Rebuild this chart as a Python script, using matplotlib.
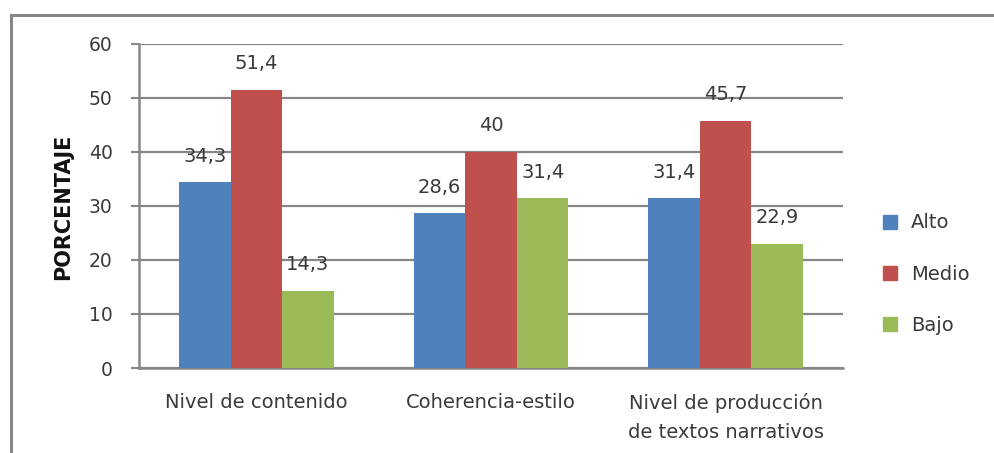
import numpy as np
import matplotlib.pyplot as plt
from matplotlib.lines import Line2D

categorias = ["Nivel de contenido", "Coherencia-estilo", "Nivel de producción\nde textos narrativos"]
alto = [34.3, 28.6, 31.4]
medio = [51.4, 40, 45.7]
bajo = [14.3, 31.4, 22.9]
series = ["Alto", "Medio", "Bajo"]
colores = ["#4F81BD", "#C0504D", "#9BBB59"]

plt.rcParams['font.family'] = ['DejaVu Sans']
gris = "#868686"
texto = "#3a3a3a"

fig = plt.figure(figsize=(9.95, 4.53), dpi=100)
ax = fig.add_axes([139/995, 1-368/453, 704/995, (368-43.5)/453])

x = np.arange(len(categorias))
w = 0.22
for i, (vals, nombre, col) in enumerate(zip([alto, medio, bajo], series, colores)):
    pos = x + (i-1)*w
    ax.bar(pos, vals, width=w, color=col, label=nombre, zorder=3)
    for p, v in zip(pos, vals):
        etiqueta = f"{v:g}".replace(".", ",")
        ax.annotate(etiqueta, (p, v), xytext=(0, 12), textcoords="offset points",
                    ha="center", va="bottom", fontsize=14, color=texto)

ax.set_xlim(-0.5, 2.5)
ax.set_ylim(0, 60)
ax.set_yticks(range(0, 61, 10))
ax.set_xticks(x)
ax.set_xticklabels(categorias, fontsize=14, color=texto, linespacing=1.7)
ax.tick_params(axis="x", length=0, pad=18)
ax.tick_params(axis="y", length=6, width=1.5, color=gris, labelsize=13.5, labelcolor=texto, pad=13)
ax.grid(axis="y", color=gris, linewidth=1.6, zorder=0)
for s in ["top", "right"]:
    ax.spines[s].set_visible(False)
for s in ["left", "bottom"]:
    ax.spines[s].set_color(gris)
    ax.spines[s].set_linewidth(1.8)

fig.text(63/995, 1-207/453, "PORCENTAJE", rotation=90, ha="center", va="center",
         fontsize=15, fontweight="bold", color="#111111")

manejadores = [Line2D([], [], marker="s", linestyle="", markersize=10, color=c) for c in colores]
fig.legend(manejadores, series, loc="upper left", bbox_to_anchor=(853/995, 1-196/453),
           frameon=False, fontsize=14, labelspacing=1.65, handletextpad=0.1,
           labelcolor=texto)

# borde exterior del gráfico
fig.add_artist(Line2D([11/995, 1], [1-15/453, 1-15/453], color=gris, linewidth=2.2))
fig.add_artist(Line2D([11/995, 11/995], [0, 1-15/453], color=gris, linewidth=2.2))

fig.savefig("out.png", dpi=100)
